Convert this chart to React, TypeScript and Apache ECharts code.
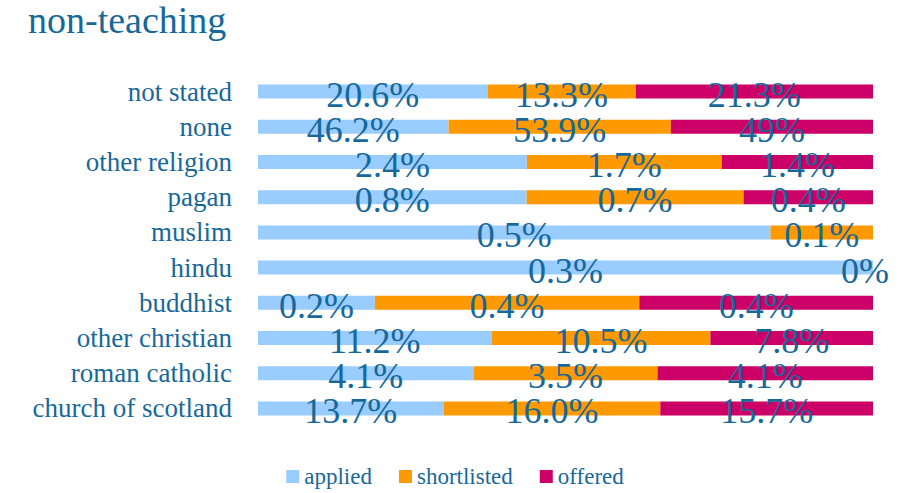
import React, { useEffect, useRef } from "react";
import * as echarts from "echarts";

const categories = [
  "not stated",
  "none",
  "other religion",
  "pagan",
  "muslim",
  "hindu",
  "buddhist",
  "other christian",
  "roman catholic",
  "church of scotland",
];

const seriesNames = ["applied", "shortlisted", "offered"];

// percentage values (estimated from the bar lengths where labels are rounded)
const applied = [20.6, 46.2, 2.4, 0.83, 0.5, 0.3, 0.19, 11.2, 4.1, 13.7];
const shortlisted = [13.3, 53.9, 1.74, 0.67, 0.1, null, 0.43, 10.5, 3.5, 16.0];
const offered = [21.3, 49, 1.35, 0.4, null, 0, 0.38, 7.8, 4.1, 15.7];

// labels as printed on the chart
const appliedLabels = ["20.6%", "46.2%", "2.4%", "0.8%", "0.5%", "0.3%", "0.2%", "11.2%", "4.1%", "13.7%"];
const shortlistedLabels = ["13.3%", "53.9%", "1.7%", "0.7%", "0.1%", "", "0.4%", "10.5%", "3.5%", "16.0%"];
const offeredLabels = ["21.3%", "49%", "1.4%", "0.4%", "", "0%", "0.4%", "7.8%", "4.1%", "15.7%"];

const colors = ["#99CCFF", "#FF9900", "#CC0066"];
const textColor = "#17689A";
const font = "'Liberation Serif', 'Times New Roman', serif";

export default function App() {
  const ref = useRef<HTMLDivElement>(null);

  useEffect(() => {
    if (!ref.current) return;
    document.body.style.margin = "0";
    const chart = echarts.init(ref.current, undefined, { renderer: "svg" });

    const raw = [applied, shortlisted, offered];
    const labels = [appliedLabels, shortlistedLabels, offeredLabels];
    const totals = categories.map((_, i) =>
      raw.reduce((s, arr) => s + ((arr[i] as number | null) ?? 0), 0)
    );

    const series = raw.map((arr, si) => ({
      name: seriesNames[si],
      type: "bar",
      stack: "total",
      barWidth: 14,
      itemStyle: { color: colors[si] },
      label: {
        show: true,
        position: "inside",
        offset: [0, 3],
        color: textColor,
        fontFamily: font,
        fontSize: 36,
        formatter: (p: any) => labels[si][p.dataIndex],
      },
      data: arr.map((v, i) => {
        if (v === null) return null;
        const item: any = { value: (v as number) / totals[i] };
        if (v === 0) {
          item.label = { offset: [-8, 3] };
        }
        return item;
      }),
    }));

    chart.setOption({
      animation: false,
      color: colors,
      title: {
        text: "non-teaching",
        left: 28,
        top: 1,
        padding: 0,
        textStyle: {
          color: textColor,
          fontFamily: font,
          fontSize: 38,
          fontWeight: "normal",
        },
      },
      legend: {
        data: seriesNames,
        left: "center",
        top: 465,
        padding: 0,
        itemWidth: 13,
        itemHeight: 13,
        itemGap: 27,
        icon: "rect",
        textStyle: { color: textColor, fontFamily: font, fontSize: 23 },
      },
      grid: { left: 258, right: 37, top: 74, bottom: 67, containLabel: false },
      xAxis: {
        type: "value",
        min: 0,
        max: 1,
        show: false,
      },
      yAxis: {
        type: "category",
        data: categories,
        inverse: true,
        axisLine: { show: false },
        axisTick: { show: false },
        splitLine: { show: false },
        axisLabel: {
          interval: 0,
          margin: 26,
          color: textColor,
          fontFamily: font,
          fontSize: 27,
        },
      },
      series,
    });

    return () => chart.dispose();
  }, []);

  return <div ref={ref} style={{ width: 910, height: 493 }} />;
}
